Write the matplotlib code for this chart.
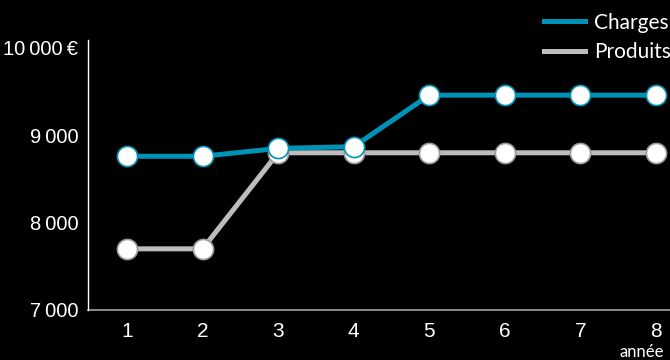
import matplotlib
matplotlib.use("Agg")
import matplotlib.pyplot as plt
from matplotlib.lines import Line2D

# --- DATA ---
annees = [1, 2, 3, 4, 5, 6, 7, 8]
charges = [8760, 8760, 8850, 8870, 9460, 9460, 9460, 9460]
produits = [7700, 7700, 8800, 8800, 8800, 8800, 8800, 8800]
y_ticks = [7000, 8000, 9000, 10000]
y_labels = ["7\u2009000", "8\u2009000", "9\u2009000", "10\u2009000\u2009€"]

BLEU = "#0093b8"
GRIS = "#bdbdbd"
POLICE = "Liberation Sans"

fig = plt.figure(figsize=(6.7, 3.6), dpi=100, facecolor="black")
ax = fig.add_axes([0.1313, 0.139, 0.8687, 0.75])
ax.set_facecolor("black")

ax.plot(annees, produits, color=GRIS, lw=3.6, marker="o", ms=14.5,
        mfc="white", mec="#9a9a9a", mew=1.2, label="Produits", zorder=3)
ax.plot(annees, charges, color=BLEU, lw=3.6, marker="o", ms=14.5,
        mfc="white", mec=BLEU, mew=1.2, label="Charges", zorder=4)

ax.set_xlim(0.483, 8.186)
ax.set_ylim(7000, 10092)
ax.set_xticks(annees)
ax.set_xticklabels([str(a) for a in annees], fontfamily=POLICE, fontsize=15, color="white")
ax.set_yticks(y_ticks)
ax.set_yticklabels(y_labels, fontfamily=POLICE, fontsize=14.5, color="white")
ax.tick_params(axis="y", length=0, pad=7)
ax.tick_params(axis="x", length=0, pad=9)

for s in ["top", "right"]:
    ax.spines[s].set_visible(False)
ax.spines["left"].set_color("white")
ax.spines["bottom"].set_color("#a0a0a0")
ax.spines["left"].set_linewidth(1)
ax.spines["bottom"].set_linewidth(1.2)
ax.spines["bottom"].set_zorder(0)

fig.text(0.924, 0.045, "année", ha="left", va="top", color="white",
         fontsize=12, fontfamily="Lato")

# legende en haut a droite
handles = [Line2D([], [], color=BLEU, lw=3.6), Line2D([], [], color=GRIS, lw=3.6)]
leg = fig.legend(handles, ["Charges", "Produits"], loc="upper right",
                 bbox_to_anchor=(1.029, 1.017), frameon=False, handlelength=2.0,
                 labelspacing=0.45, handletextpad=0.4,
                 prop={"family": "Lato", "size": 15})
for t in leg.get_texts():
    t.set_color("white")

fig.savefig("out.png", dpi=100, facecolor="black")
